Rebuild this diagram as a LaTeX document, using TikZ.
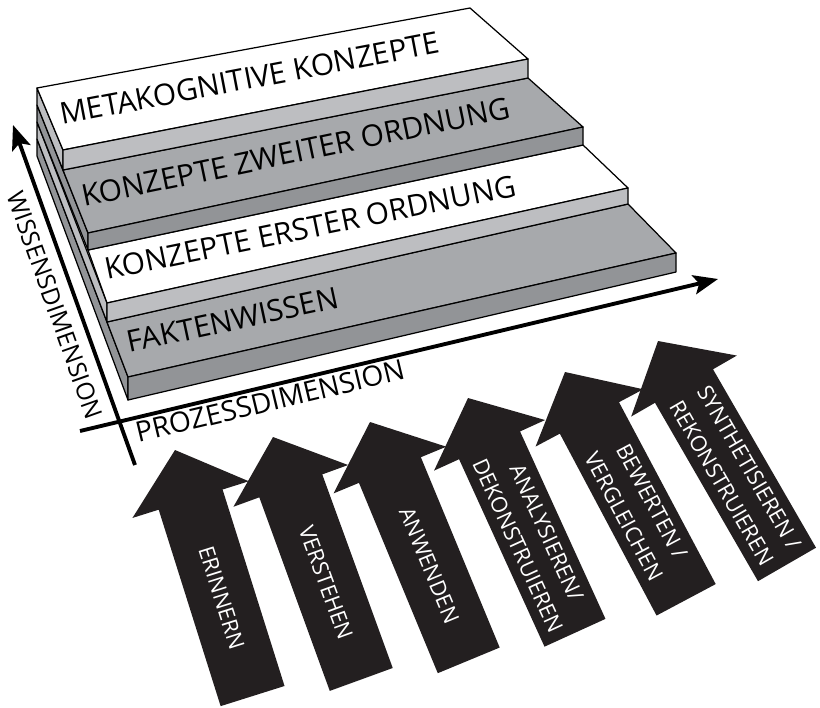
\documentclass[tikz,border=0pt]{standalone}
\usepackage{fontspec}
\setmainfont{Open Sans}
\usetikzlibrary{arrows.meta}
\definecolor{stairlight}{RGB}{189,190,193}
\definecolor{stairgray}{RGB}{167,169,172}
\definecolor{stairdark}{RGB}{146,148,151}
\definecolor{arrowblack}{RGB}{35,31,32}

\begin{document}
\begin{tikzpicture}[
  x=0.02cm, y=-0.02cm,
  face/.style={draw=black, line width=0.7pt, line join=round},
  topw/.style={face, fill=white},
  topg/.style={face, fill=stairgray},
  riserl/.style={face, fill=stairlight},
  riserd/.style={face, fill=stairdark},
  lvl/.style={font=\fontsize{17}{20}\selectfont, anchor=base west, inner sep=0pt},
  axis/.style={line width=2.2pt, -{Stealth[length=14pt,width=11pt,inset=3pt]}},
  dimlbl/.style={font=\fontsize{16}{19}\selectfont, inner sep=0pt},
  blk/.style={fill=arrowblack},
  proc/.style={text=white, align=center, inner sep=0pt,
               font=\fontsize{12.4}{18}\selectfont}
]
\useasboundingbox (0,0) rectangle (820,707);

% stairs, lowest step first
\filldraw[riserd] (37,139) -- (128,377) -- (128,400) -- (37,156) -- cycle;
\filldraw[topg]   (107,322) -- (628,204) -- (676,253) -- (128,377) -- cycle;
\filldraw[riserd] (128,377) -- (676,253) -- (676,272) -- (128,400) -- cycle;

\filldraw[riserl] (37,122) -- (107,303) -- (107,322) -- (37,139) -- cycle;
\filldraw[topw]   (88,250) -- (583,145) -- (628,188) -- (107,303) -- cycle;
\filldraw[riserl] (107,303) -- (628,188) -- (628,204) -- (107,322) -- cycle;

\filldraw[riserd] (37,105) -- (88,233) -- (88,250) -- (37,122) -- cycle;
\filldraw[topg]   (63,170) -- (528,78) -- (583,127) -- (88,233) -- cycle;
\filldraw[riserd] (88,233) -- (583,127) -- (583,145) -- (88,250) -- cycle;

\filldraw[riserl] (37,88) -- (63,150) -- (63,170) -- (37,105) -- cycle;
\filldraw[topw]   (37,88) -- (470,8) -- (528,59) -- (63,150) -- cycle;
\filldraw[riserl] (63,150) -- (528,59) -- (528,78) -- (63,170) -- cycle;

\node[lvl, rotate=10.8] (meta)  at (62,125)  {METAKOGNITIVE KONZEPTE};
\node[lvl, rotate=11.8] (zweit) at (84,207)  {KONZEPTE ZWEITER ORDNUNG};
\node[lvl, rotate=11.6] (erst)  at (107,280) {KONZEPTE ERSTER ORDNUNG};
\node[lvl, rotate=12.1] (fakt)  at (129,353) {FAKTENWISSEN};

% axes
\coordinate (wbot)   at (135,465);
\coordinate (wtop)   at (13,125);
\coordinate (pleft)  at (80,431);
\coordinate (pright) at (718,279);
\draw[axis] (wbot) -- (wtop);
\draw[axis] (pleft) -- (pright);
\node[dimlbl, anchor=base west, rotate=13.5] (prozess) at (138,443) {PROZESSDIMENSION};
\node[dimlbl, font=\fontsize{14}{17}\selectfont, rotate=-70.4] (wissen) at (55,305) {WISSENSDIMENSION};

% process arrows
\foreach \tx/\ty/\a/\name/\txt in {
    175/450/17.5/erinnern/ERINNERN,
    273/437/20/verstehen/VERSTEHEN,
    370/422/22.5/anwenden/ANWENDEN,
    468/398/24.5/analyse/{ANALYSIEREN/\\DEKONSTRUIEREN},
    565/372/28/bewerten/{BEWERTEN /\\VERGLEICHEN},
    658/341/30/synthese/{SYNTHETISIEREN /\\REKONSTRUIEREN}}{
  \begin{scope}[shift={(\tx,\ty)}, rotate=\a]
    \fill[blk] (0,0) -- (61,52) -- (33.5,52) -- (33.5,258) -- (-33.5,258)
      -- (-33.5,52) -- (-61,52) -- cycle;
    \node[proc, rotate=\a-90] (\name) at (0,155) {\txt};
  \end{scope}
}
\end{tikzpicture}
\end{document}
